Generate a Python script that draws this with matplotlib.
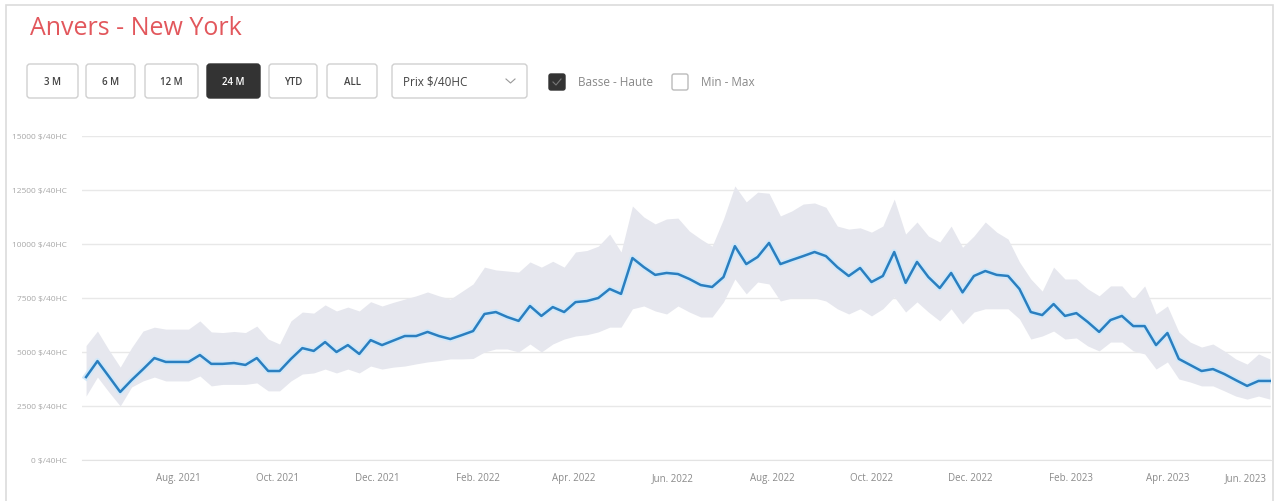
import matplotlib
matplotlib.use("Agg")
import matplotlib.pyplot as plt
from matplotlib.patches import FancyBboxPatch, Rectangle
import pandas as pd

plt.rcParams['font.family'] = ['Open Sans', 'DejaVu Sans']

# weekly prices, Antwerp -> New York ($/40HC)
start_date = '2021-06-05'
prix = [3840, 4580, 3870, 3150, 3700, 4200, 4720, 4540, 4540, 4540,
        4860, 4450, 4450, 4490, 4400, 4720, 4120, 4120, 4680, 5180,
        5050, 5460, 5000, 5320, 4910, 5550, 5320, 5530, 5740, 5740,
        5930, 5740, 5600, 5780, 5970, 6760, 6850, 6620, 6440, 7130,
        6670, 7080, 6850, 7310, 7360, 7500, 7920, 7690, 9350, 8930,
        8570, 8660, 8610, 8380, 8100, 8010, 8470, 9900, 9070, 9400,
        10050, 9070, 9260, 9440, 9630, 9440, 8930, 8520, 8890, 8240,
        8520, 9630, 8200, 9170, 8470, 7960, 8660, 7760, 8520, 8750,
        8570, 8520, 7920, 6850, 6710, 7220, 6670, 6800, 6390, 5930,
        6480, 6670, 6200, 6200, 5320, 5880, 4680, 4400, 4120, 4210,
        3980, 3700, 3430, 3660, 3660]
haute = [5300, 5970, 5100, 4300, 5200, 5970, 6150, 6060, 6060, 6060,
         6440, 5930, 5900, 5950, 5900, 6200, 5600, 5370, 6440, 6850,
         6800, 7180, 6900, 7080, 6900, 7330, 7130, 7300, 7450, 7600,
         7780, 7600, 7450, 7800, 8150, 8930, 8800, 8750, 8700, 9170,
         8930, 9200, 8930, 9630, 9700, 9900, 10460, 9630, 11760, 11250,
         10930, 11160, 11200, 10600, 10230, 9900, 11160, 12690, 11950, 12400,
         12350, 11300, 11530, 11850, 11900, 11700, 10830, 10690, 10750, 10550,
         10830, 12080, 10460, 11020, 10370, 10090, 10830, 9850, 10370, 11020,
         10550, 10230, 9170, 8380, 7820, 8930, 8380, 8380, 7920, 7600,
         8060, 8060, 7450, 8060, 6760, 7130, 5930, 5460, 5230, 5370,
         5050, 4680, 4440, 4910, 4680]
basse = [2960, 3840, 3150, 2500, 3380, 3660, 3840, 3660, 3660, 3660,
         3890, 3430, 3500, 3500, 3500, 3570, 3200, 3200, 3660, 3980,
         4030, 4210, 4030, 4210, 4030, 4350, 4210, 4300, 4350, 4450,
         4540, 4600, 4680, 4680, 4700, 5000, 5140, 5140, 5000, 5370,
         5000, 5370, 5600, 5740, 5800, 5930, 6150, 6150, 7000, 7130,
         6900, 6760, 7130, 6850, 6620, 6620, 7320, 8380, 7690, 8240,
         8150, 7360, 7500, 7500, 7500, 7360, 7000, 6760, 7000, 6670,
         7000, 7550, 6850, 7320, 6850, 6440, 7000, 6300, 6850, 7000,
         7000, 7000, 6530, 5600, 5740, 5970, 5600, 5650, 5280, 5050,
         5460, 5460, 5050, 4910, 4210, 4540, 3750, 3610, 3430, 3430,
         3200, 2960, 2820, 2960, 2820]

y_ticks = [0, 2500, 5000, 7500, 10000, 12500, 15000]
x_tick_dates = ['2021-08-01', '2021-10-01', '2021-12-01', '2022-02-01',
                '2022-04-01', '2022-06-01', '2022-08-01', '2022-10-01',
                '2022-12-01', '2023-02-01', '2023-04-01', '2023-06-01']
x_tick_labels = ['Aug. 2021', 'Oct. 2021', 'Dec. 2021', 'Feb. 2022',
                 'Apr. 2022', 'Jun. 2022', 'Aug. 2022', 'Oct. 2022',
                 'Dec. 2022', 'Feb. 2023', 'Apr. 2023', 'Jun. 2023']
buttons = ['3 M', '6 M', '12 M', '24 M', 'YTD', 'ALL']
active_button = '24 M'

dates = pd.date_range(start_date, periods=len(prix), freq='7D')

W, H = 1276, 502
fig = plt.figure(figsize=(W / 100, H / 100), dpi=100)
fig.patch.set_facecolor('white')
tr = fig.dpi_scale_trans


def px(x, y):
    # pixel coords (y from top) -> inches
    return x / 100, (H - y) / 100


def box(x0, y0, x1, y1, fc, ec, r=3, lw=1.0):
    bx, by = px(x0, y1)
    p = FancyBboxPatch((bx, by), (x1 - x0) / 100, (y1 - y0) / 100,
                       boxstyle="round,pad=0,rounding_size=%f" % (r / 100),
                       transform=tr, fc=fc, ec=ec, lw=lw)
    fig.patches.append(p)


# outer frame
fig.patches.append(Rectangle(px(6, 520), 1267 / 100, 514 / 100, transform=tr,
                             fc='none', ec='#dcdcdc', lw=1.2))

# title
fig.text(*px(30, 29), 'Anvers - New York', transform=tr, color='#e2575c',
         fontsize=18, va='center', ha='left')

# range buttons
btn_x = [(27, 78), (86, 135), (145, 198), (207, 260), (269, 317), (327, 377)]
for lab, (x0, x1) in zip(buttons, btn_x):
    on = lab == active_button
    box(x0, 65, x1, 99, '#333333' if on else 'white', '#333333' if on else '#d0d0d0')
    fig.text(*px((x0 + x1) / 2, 82.5), lab, transform=tr, ha='center', va='center',
             fontsize=7, fontweight='semibold', color='white' if on else '#444444')

# dropdown
box(392, 65, 527, 99, 'white', '#d0d0d0')
fig.text(*px(403, 82), 'Prix $/40HC', transform=tr, ha='left', va='center',
         fontsize=8.5, color='#444444')
cx, cy = [506, 510.5, 515], [80, 84, 80]
fig.lines.append(plt.Line2D([c / 100 for c in cx], [(H - c) / 100 for c in cy],
                            transform=tr, color='#999999', lw=0.8))

# check boxes
box(549, 75, 565, 91, '#333333', '#333333', r=2)
fig.lines.append(plt.Line2D([553 / 100, 556 / 100, 561 / 100],
                            [(H - 83) / 100, (H - 86) / 100, (H - 80) / 100],
                            transform=tr, color='#777777', lw=0.8))
fig.text(*px(578, 83), 'Basse - Haute', transform=tr, ha='left', va='center',
         fontsize=8.5, color='#888888')
box(672, 75, 688, 91, 'white', '#bbbbbb', r=2)
fig.text(*px(701, 83), 'Min - Max', transform=tr, ha='left', va='center',
         fontsize=8.5, color='#888888')

# chart
ax = fig.add_axes([82 / W, (H - 461) / H, (1271 - 82) / W, (461 - 137) / H])
ax.fill_between(dates, basse, haute, color='#e6e7ee', lw=0, zorder=1)
ax.plot(dates, prix, color='#d3e8f8', lw=4.5, zorder=2, solid_joinstyle='round')
ax.plot(dates, prix, color='#2a7fc0', lw=1.8, zorder=3, solid_joinstyle='round')

ax.set_ylim(0, 15000)
ax.set_xlim(dates[0] - pd.Timedelta(days=2.5), dates[-1] + pd.Timedelta(days=0.7))
ax.set_yticks(y_ticks)
ax.set_yticklabels(['%d $/40HC' % v for v in y_ticks], fontsize=6, color='#a8a8a8')
ax.grid(axis='y', color='#e8e8e8', lw=1.0, zorder=0)
ax.set_axisbelow(True)
ax.tick_params(axis='y', length=0, pad=11)

ax.set_xticks(pd.to_datetime(x_tick_dates))
ax.set_xticklabels(x_tick_labels, fontsize=7, color='#8a8a8a')
ax.tick_params(axis='x', length=0, pad=9)
ax.get_xticklabels()[-1].set_ha('right')

for s in ['top', 'right', 'left']:
    ax.spines[s].set_visible(False)
ax.spines['bottom'].set_color('#e3e3e3')
ax.patch.set_alpha(0)

fig.savefig('out.png', dpi=100)
